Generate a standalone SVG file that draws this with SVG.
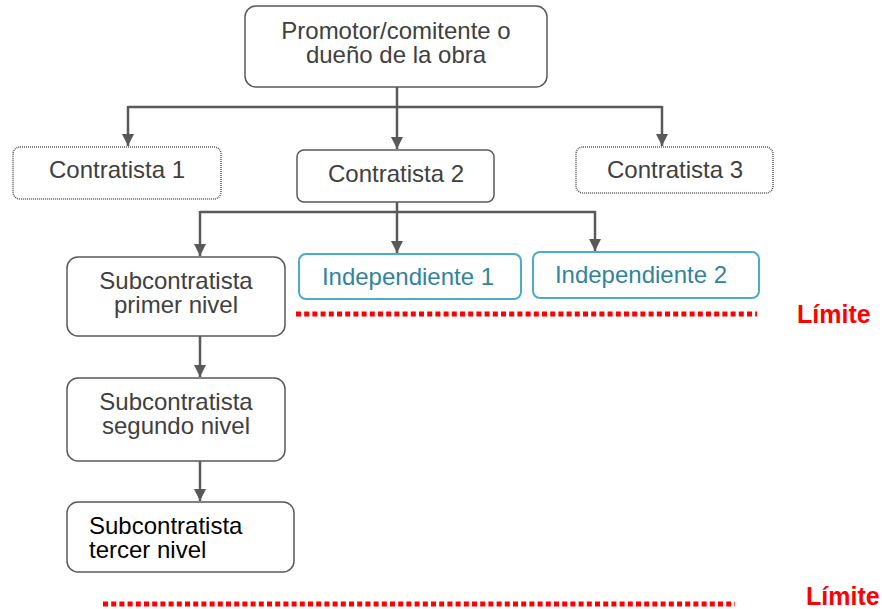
<svg xmlns="http://www.w3.org/2000/svg" width="882" height="609" viewBox="0 0 882 609">
<style>
.box{fill:#fff;stroke:#595959;stroke-width:1.5}
.dot{fill:#fff;stroke:#595959;stroke-width:1.5;stroke-dasharray:1 1}
.ind{fill:#fff;stroke:#4BACC6;stroke-width:2}
.t{font-family:"Liberation Sans",Arial,sans-serif;font-size:24px;fill:#404040;text-anchor:middle}
.ti{font-family:"Liberation Sans",Arial,sans-serif;font-size:24px;fill:#31849B;text-anchor:middle}
.tb{font-family:"Liberation Sans",Arial,sans-serif;font-size:24px;fill:#000}
.lim{font-family:"Liberation Sans",Arial,sans-serif;font-size:25px;font-weight:bold;fill:#FF0000}
.con{fill:none;stroke:#595959;stroke-width:2.5}
.red{stroke:#FF0000;stroke-width:5;stroke-dasharray:5 3.2}
</style>
<defs>
<marker id="ah" viewBox="0 0 10 10" refX="10" refY="5" markerWidth="5" markerHeight="5" markerUnits="strokeWidth" orient="auto">
<path d="M0,0 L10,5 L0,10 z" fill="#595959"/>
</marker>
</defs>
<g id="connectors">
<path class="con" d="M397,87 V107 M128,107 H662"/>
<path class="con" d="M128,106 V146" marker-end="url(#ah)"/>
<path class="con" d="M397,106 V149" marker-end="url(#ah)"/>
<path class="con" d="M662,106 V146" marker-end="url(#ah)"/>
<path class="con" d="M397,202 V212 M200,212 H595"/>
<path class="con" d="M200,211 V256" marker-end="url(#ah)"/>
<path class="con" d="M397,211 V253" marker-end="url(#ah)"/>
<path class="con" d="M595,211 V251" marker-end="url(#ah)"/>
<path class="con" d="M200,336 V377" marker-end="url(#ah)"/>
<path class="con" d="M200,461 V501" marker-end="url(#ah)"/>
</g>
<g id="promotor">
<rect class="box" x="245" y="6" width="302" height="81" rx="11"/>
<text class="t" x="396" y="39">Promotor/comitente o</text>
<text class="t" x="396" y="63">dueño de la obra</text>
</g>
<g id="contratista1">
<rect class="dot" x="13" y="147" width="208" height="52" rx="7"/>
<text class="t" x="117" y="178">Contratista 1</text>
</g>
<g id="contratista2">
<rect class="box" x="297" y="150" width="197" height="52" rx="7"/>
<text class="t" x="396" y="182">Contratista 2</text>
</g>
<g id="contratista3">
<rect class="dot" x="576" y="147" width="197" height="46" rx="7"/>
<text class="t" x="675" y="178">Contratista 3</text>
</g>
<g id="sub1">
<rect class="box" x="67" y="257" width="218" height="79" rx="11"/>
<text class="t" x="176" y="289">Subcontratista</text>
<text class="t" x="176" y="313">primer nivel</text>
</g>
<g id="ind1">
<rect class="ind" x="299" y="254" width="222" height="45" rx="7"/>
<text class="ti" x="408" y="285">Independiente 1</text>
</g>
<g id="ind2">
<rect class="ind" x="533" y="252" width="226" height="46" rx="7"/>
<text class="ti" x="641" y="283">Independiente 2</text>
</g>
<g id="sub2">
<rect class="box" x="67" y="378" width="218" height="83" rx="11"/>
<text class="t" x="176" y="410">Subcontratista</text>
<text class="t" x="176" y="434">segundo nivel</text>
</g>
<g id="sub3">
<rect class="box" x="67" y="502" width="227" height="70" rx="11"/>
<text class="tb" x="89" y="534">Subcontratista</text>
<text class="tb" x="89" y="558">tercer nivel</text>
</g>
<g id="limite1">
<line class="red" x1="296" y1="314" x2="757" y2="314"/>
<text class="lim" x="797" y="323">Límite</text>
</g>
<g id="limite2">
<line class="red" x1="103" y1="604" x2="735" y2="604"/>
<text class="lim" x="806" y="605">Límite</text>
</g>
</svg>
